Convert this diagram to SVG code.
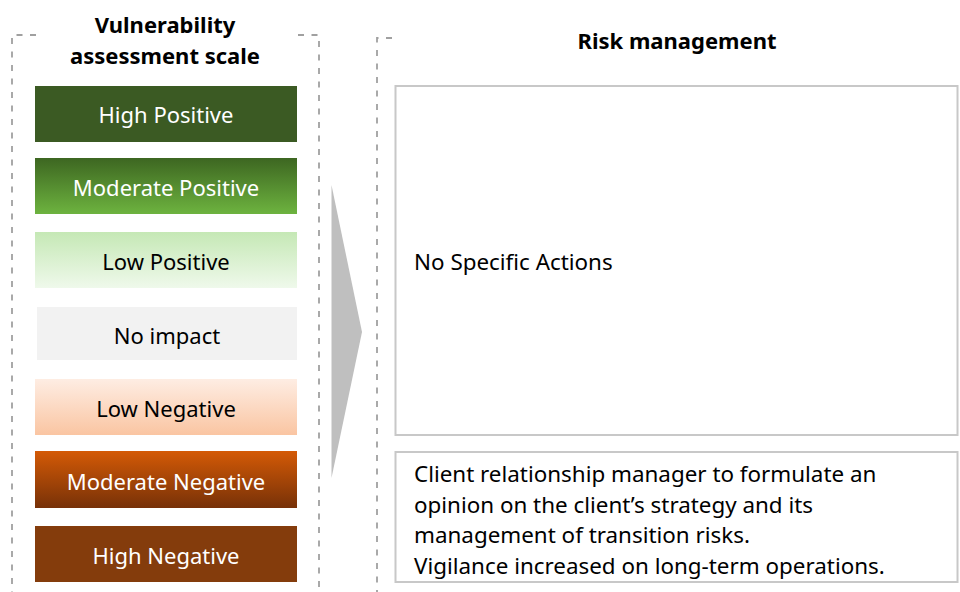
<svg xmlns="http://www.w3.org/2000/svg" width="960" height="592" viewBox="0 0 960 592">
<style>
.lbl{font-family:"Noto Sans","Open Sans",sans-serif;font-size:22px;text-anchor:middle}
.w{fill:#ffffff}
.k{fill:#000000}
.ttl{font-family:"Noto Sans","Open Sans",sans-serif;font-size:22px;font-weight:bold;text-anchor:middle;fill:#000}
.body{font-family:"Noto Sans","Open Sans",sans-serif;font-size:22.4px;fill:#000}
.dash{fill:none;stroke:#a0a0a0;stroke-width:1.8;stroke-dasharray:6 7.5}
.rbox{fill:#ffffff;stroke:#c8c8c8;stroke-width:2}
</style>
<defs>
<linearGradient id="gMP" x1="0" y1="0" x2="0" y2="1"><stop offset="0" stop-color="#3d6621"/><stop offset="1" stop-color="#6db33f"/></linearGradient>
<linearGradient id="gLP" x1="0" y1="0" x2="0" y2="1"><stop offset="0" stop-color="#c5e8b5"/><stop offset="1" stop-color="#eff9eb"/></linearGradient>
<linearGradient id="gLN" x1="0" y1="0" x2="0" y2="1"><stop offset="0" stop-color="#feede3"/><stop offset="1" stop-color="#fac5a2"/></linearGradient>
<linearGradient id="gMN" x1="0" y1="0" x2="0" y2="1"><stop offset="0" stop-color="#d45a06"/><stop offset="1" stop-color="#773108"/></linearGradient>
</defs>

<g id="frames">
<path class="dash" d="M36 35 H12 V592"/>
<path class="dash" d="M298 35 H319 V592"/>
<path class="dash" d="M392 38 H377 V592"/>
</g>

<g id="titles">
<text class="ttl" x="165" y="33">Vulnerability</text>
<text class="ttl" x="165" y="64">assessment scale</text>
<text class="ttl" x="677" y="49">Risk management</text>
</g>

<g id="high-positive"><rect x="35" y="86" width="262" height="56" fill="#3b5a23"/><text class="lbl w" x="166" y="123">High Positive</text></g>
<g id="moderate-positive"><rect x="35" y="158" width="262" height="56" fill="url(#gMP)"/><text class="lbl w" x="166" y="195.5">Moderate Positive</text></g>
<g id="low-positive"><rect x="35" y="232" width="262" height="56" fill="url(#gLP)"/><text class="lbl k" x="166" y="270">Low Positive</text></g>
<g id="no-impact"><rect x="37" y="307" width="260" height="53" fill="#f2f2f2"/><text class="lbl k" x="167" y="344">No impact</text></g>
<g id="low-negative"><rect x="35" y="379" width="262" height="56" fill="url(#gLN)"/><text class="lbl k" x="166" y="416.5">Low Negative</text></g>
<g id="moderate-negative"><rect x="35" y="451" width="262" height="57" fill="url(#gMN)"/><text class="lbl w" x="166" y="490">Moderate Negative</text></g>
<g id="high-negative"><rect x="35" y="526" width="262" height="56" fill="#843c0c"/><text class="lbl w" x="166" y="563.5">High Negative</text></g>

<g id="connectors">
<polygon points="331.5,185 362,332 331.5,478" fill="#bfbfbf"/>
</g>

<g id="no-action-box">
<rect class="rbox" x="395.5" y="86" width="562" height="349"/>
<text class="body" x="414" y="270">No Specific Actions</text>
</g>

<g id="action-box">
<rect class="rbox" x="395.5" y="452" width="562" height="130"/>
<text class="body" x="414" y="482">Client relationship manager to formulate an</text>
<text class="body" x="414" y="512.5">opinion on the client’s strategy and its</text>
<text class="body" x="414" y="543">management of transition risks.</text>
<text class="body" x="414" y="573.5">Vigilance increased on long-term operations.</text>
</g>
</svg>
